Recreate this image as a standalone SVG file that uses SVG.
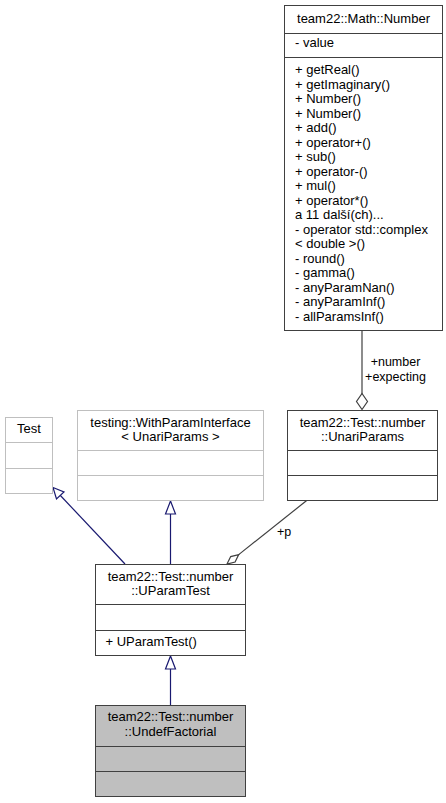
<svg xmlns="http://www.w3.org/2000/svg" width="446" height="803" viewBox="0 0 446 803">
<style>
text{font-family:"Liberation Sans",Arial,Helvetica,sans-serif;font-size:13px;fill:#000}
.c{text-anchor:middle}
.lbl{font-size:12.5px}
.box{fill:#fff;stroke:#404040;stroke-width:1}
.ext{fill:#fff;stroke:#bfbfbf;stroke-width:1}
.cur{fill:#bfbfbf;stroke:#404040;stroke-width:1}
.sepd{stroke:#404040;stroke-width:1}
.sepl{stroke:#bfbfbf;stroke-width:1}
.inh{stroke:#191970;stroke-width:1.2;fill:none}
.tri{fill:#fff;stroke:#191970;stroke-width:1.2}
.agg{stroke:#404040;stroke-width:1.2;fill:none}
.dia{fill:#fff;stroke:#404040;stroke-width:1.2}
</style>
<rect width="446" height="803" fill="#fff"/>
<g id="edges">
<path class="inh" d="M125,564 L59,494"/>
<polygon class="tri" points="53,487.5 64,492 56.5,499"/>
<path class="inh" d="M170.5,564 L170.5,514"/>
<polygon class="tri" points="170.5,501 165.5,514 175.5,514"/>
<path class="agg" d="M306.7,500.5 L238.7,554.6"/>
<polygon class="dia" points="227,564 230.7,556.6 238.7,554.6 235.1,562"/>
<text class="lbl" x="277" y="536">+p</text>
<path class="agg" d="M362,330.5 L362,395"/>
<polygon class="dia" points="362,409.5 356.5,401.5 362,393.5 367.5,401.5"/>
<text class="c lbl" x="395.5" y="366">+number</text>
<text class="c lbl" x="395.5" y="380.5">+expecting</text>
<path class="inh" d="M170.5,705 L170.5,669"/>
<polygon class="tri" points="170.5,656 165.5,669 175.5,669"/>
</g>
<g id="node-number">
<rect class="box" x="284.5" y="5.5" width="158" height="325"/>
<line class="sepd" x1="284.5" y1="33.5" x2="442.5" y2="33.5"/>
<line class="sepd" x1="284.5" y1="57.5" x2="442.5" y2="57.5"/>
<text class="c" x="363.5" y="22.5">team22::Math::Number</text>
<text x="295" y="47">- value</text>
<text x="295" y="74">+ getReal()</text>
<text x="295" y="88.5">+ getImaginary()</text>
<text x="295" y="103">+ Number()</text>
<text x="295" y="117.5">+ Number()</text>
<text x="295" y="132">+ add()</text>
<text x="295" y="146.5">+ operator+()</text>
<text x="295" y="161">+ sub()</text>
<text x="295" y="175.5">+ operator-()</text>
<text x="295" y="190">+ mul()</text>
<text x="295" y="204.5">+ operator*()</text>
<text x="295" y="219">a 11 další(ch)...</text>
<text x="295" y="233.5">- operator std::complex</text>
<text x="295" y="248">&lt; double &gt;()</text>
<text x="295" y="262.5">- round()</text>
<text x="295" y="277">- gamma()</text>
<text x="295" y="291.5">- anyParamNan()</text>
<text x="295" y="306">- anyParamInf()</text>
<text x="295" y="320.5">- allParamsInf()</text>
</g>
<g id="node-test">
<rect class="ext" x="5.5" y="417.5" width="47" height="76"/>
<line class="sepl" x1="5.5" y1="442.5" x2="52.5" y2="442.5"/>
<line class="sepl" x1="5.5" y1="468.5" x2="52.5" y2="468.5"/>
<text class="c" x="29" y="433">Test</text>
</g>
<g id="node-withparaminterface">
<rect class="ext" x="77.5" y="410.5" width="186" height="90"/>
<line class="sepl" x1="77.5" y1="450.5" x2="263.5" y2="450.5"/>
<line class="sepl" x1="77.5" y1="475.5" x2="263.5" y2="475.5"/>
<text class="c" x="170.5" y="426.5">testing::WithParamInterface</text>
<text class="c" x="170.5" y="440.5">&lt; UnariParams &gt;</text>
</g>
<g id="node-unariparams">
<rect class="box" x="287.5" y="410.5" width="150" height="90"/>
<line class="sepd" x1="287.5" y1="450.5" x2="437.5" y2="450.5"/>
<line class="sepd" x1="287.5" y1="475.5" x2="437.5" y2="475.5"/>
<text class="c" x="362.5" y="426.5">team22::Test::number</text>
<text class="c" x="362.5" y="440.5">::UnariParams</text>
</g>
<g id="node-uparamtest">
<rect class="box" x="95.5" y="564.5" width="150" height="91"/>
<line class="sepd" x1="95.5" y1="604.5" x2="245.5" y2="604.5"/>
<line class="sepd" x1="95.5" y1="630.5" x2="245.5" y2="630.5"/>
<text class="c" x="170.5" y="580.5">team22::Test::number</text>
<text class="c" x="170.5" y="594.5">::UParamTest</text>
<text x="105.5" y="645.5">+ UParamTest()</text>
</g>
<g id="node-undeffactorial">
<rect class="cur" x="95.5" y="705.5" width="150" height="91"/>
<line class="sepd" x1="95.5" y1="746.5" x2="245.5" y2="746.5"/>
<line class="sepd" x1="95.5" y1="771.5" x2="245.5" y2="771.5"/>
<text class="c" x="170.5" y="721">team22::Test::number</text>
<text class="c" x="170.5" y="735.5">::UndefFactorial</text>
</g>
</svg>
